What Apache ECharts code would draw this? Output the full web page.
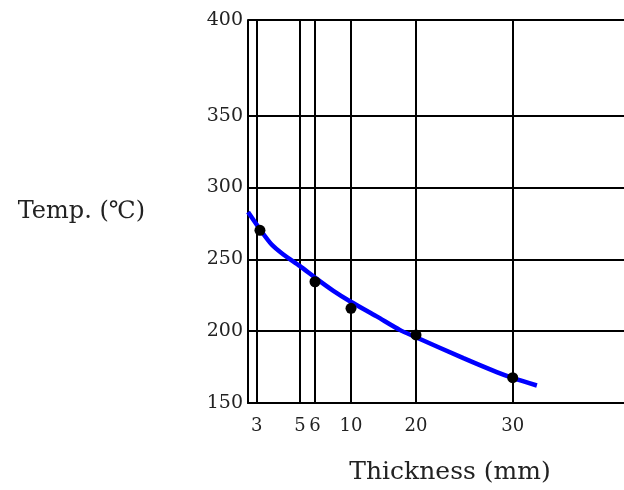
<!DOCTYPE html>
<html>
<head>
<meta charset="utf-8">
<script src="https://cdn.jsdelivr.net/npm/echarts@6/dist/echarts.min.js"></script>
<style>html,body{margin:0;padding:0;background:#fff}#c{width:624px;height:490px}</style>
</head>
<body>
<div id="c"></div>
<script>
// ---- data ----
const xTicks = [3, 5, 6, 10, 20, 30];
const yTicks = [150, 200, 250, 300, 350, 400];
const curveThickness = [2.6, 3.15, 3.69, 4.23, 5.0, 6.0, 8.04, 9.97, 13.95, 17.5, 20, 24.9, 28.35, 30.06, 32.5];
const curveTemp = [282.9, 270.9, 260.3, 253.4, 245.3, 237.3, 228.1, 220.5, 210.3, 200.9, 195.8, 181.2, 171.5, 167.3, 162.2];
const pointThickness = [3.15, 6, 10, 20, 30];
const pointTemp = [270.2, 234.4, 215.9, 197.4, 167.6];

// ---- non-linear axis scales of the original drawing (piecewise linear) ----
const xScaleDomain = [3, 5, 6, 10, 20, 30];
const xScaleRange = [8.7, 52, 67, 103, 168, 264.7];
const yScaleDomain = [150, 350, 400];
const yScaleRange = [150, 350, 416.6];

function piecewise(d, r) {
  return function (v) {
    let i = 0;
    if (v <= d[0]) i = 0;
    else if (v >= d[d.length - 1]) i = d.length - 2;
    else { while (v > d[i + 1]) i++; }
    return r[i] + (v - d[i]) * (r[i + 1] - r[i]) / (d[i + 1] - d[i]);
  };
}
const xs = piecewise(xScaleDomain, xScaleRange);
const ys = piecewise(yScaleDomain, yScaleRange);
const xTickPos = xTicks.map(xs);
const yTickPos = yTicks.map(ys);
function labelFor(ticks, pos, v) {
  for (let i = 0; i < pos.length; i++) if (Math.abs(pos[i] - v) < 0.01) return String(ticks[i]);
  return '';
}

const font = 'DejaVu Serif';
const chart = echarts.init(document.getElementById('c'), null, { renderer: 'canvas' });
chart.setOption({
  animation: false,
  backgroundColor: '#fff',
  grid: { left: 248, top: 20, right: 0, bottom: 86, show: false },
  xAxis: {
    type: 'value', min: 0, max: 376,
    name: 'Thickness (mm)', nameLocation: 'middle', nameGap: 57,
    nameTextStyle: { fontFamily: font, fontSize: 25, color: '#222', padding: [0, 0, 0, 28] },
    axisLine: { show: true, lineStyle: { color: '#000', width: 2 } },
    axisTick: { show: false, customValues: xTickPos },
    axisLabel: {
      customValues: xTickPos, margin: 14,
      fontFamily: font, fontSize: 18, color: '#222',
      formatter: v => labelFor(xTicks, xTickPos, v)
    },
    splitLine: { show: true, lineStyle: { color: '#000', width: 2 } }
  },
  yAxis: {
    type: 'value', min: 150, max: 416.6,
    name: 'Temp. (℃)', nameLocation: 'middle', nameRotate: 0, nameGap: 103,
    nameTextStyle: { fontFamily: font, fontSize: 24, color: '#222', padding: [0, 0, 10, 0] },
    axisLine: { show: true, lineStyle: { color: '#000', width: 2 } },
    axisTick: { show: false, customValues: yTickPos },
    axisLabel: {
      customValues: yTickPos, margin: 5,
      fontFamily: font, fontSize: 19, color: '#222', padding: [0, 0, 12, 0],
      formatter: v => labelFor(yTicks, yTickPos, v)
    },
    splitLine: { show: true, lineStyle: { color: '#000', width: 2 } }
  },
  series: [
    {
      type: 'line', smooth: 0.25, showSymbol: false,
      lineStyle: { color: '#0000ff', width: 4.5 },
      data: curveThickness.map((t, i) => [xs(t), ys(curveTemp[i])]),
      z: 3
    },
    {
      type: 'scatter', symbol: 'circle', symbolSize: 11,
      itemStyle: { color: '#000', opacity: 1 },
      data: pointThickness.map((t, i) => [xs(t), ys(pointTemp[i])]),
      z: 4
    }
  ]
});
</script>
</body>
</html>
